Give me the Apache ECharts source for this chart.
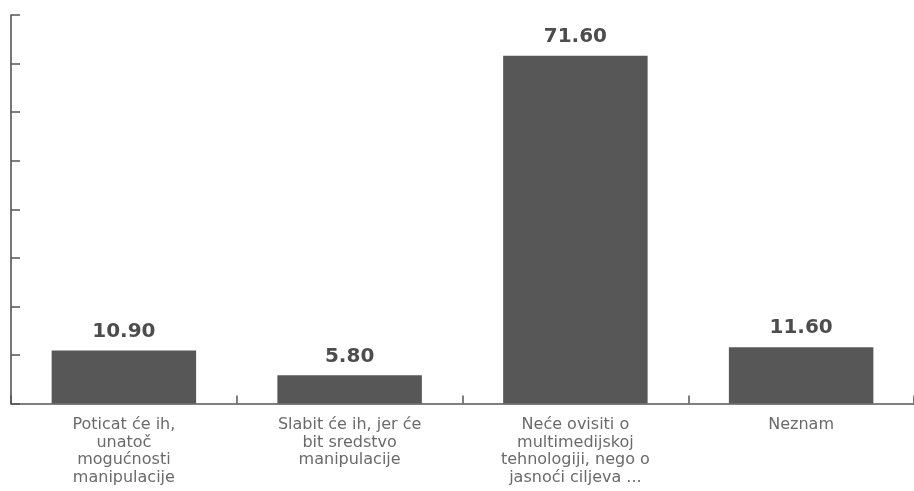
<!DOCTYPE html>
<html>
<head>
<meta charset="utf-8">
<script src="https://cdn.jsdelivr.net/npm/echarts@6/dist/echarts.min.js"></script>
<style>
  html, body { margin: 0; padding: 0; background: #fff; overflow: hidden; }
  #chart { width: 914px; height: 491px; }
</style>
</head>
<body>
<div id="chart"></div>
<script>
// Answer categories (Croatian survey responses)
const categories = [
  'Poticat će ih,\nunatoč\nmogućnosti\nmanipulacije',
  'Slabit će ih, jer će\nbit sredstvo\nmanipulacije',
  'Neće ovisiti o\nmultimedijskoj\ntehnologiji, nego o\njasnoći ciljeva ...',
  'Neznam'
];
// Percentage of respondents per answer
const values = [10.90, 5.80, 71.60, 11.60];
// Value axis range
const yMin = 0;
const yMax = 80;
const yStep = 10;

const chart = echarts.init(document.getElementById('chart'));
chart.setOption({
  animation: false,
  backgroundColor: '#ffffff',
  // the plot runs off the right edge, so the last category tick is not drawn
  grid: { left: 11, right: -2, top: 15, bottom: 87.5, containLabel: false },
  xAxis: {
    type: 'category',
    data: categories,
    axisLine: { lineStyle: { color: '#555555', width: 1.6 } },
    axisTick: { show: true, inside: true, length: 8, lineStyle: { color: '#555555', width: 1.5 } },
    axisLabel: {
      interval: 0,
      margin: 13,
      color: '#6a6a6a',
      fontFamily: 'DejaVu Sans, Verdana, sans-serif',
      fontSize: 16,
      lineHeight: 17.5,
      align: 'center'
    }
  },
  yAxis: {
    type: 'value',
    min: yMin,
    max: yMax,
    interval: yStep,
    axisLine: { show: true, lineStyle: { color: '#555555', width: 1.6 } },
    axisTick: { show: true, inside: true, length: 9, lineStyle: { color: '#555555', width: 1.5 } },
    axisLabel: { show: false },
    splitLine: { show: false }
  },
  series: [{
    type: 'bar',
    data: values,
    barWidth: '64%',
    itemStyle: { color: '#575757' },
    label: {
      show: true,
      position: 'top',
      distance: 9,
      formatter: p => p.value.toFixed(2),
      color: '#4d4d4d',
      fontFamily: 'DejaVu Sans, Verdana, sans-serif',
      fontWeight: 'bold',
      fontSize: 20
    }
  }]
});
</script>
</body>
</html>
